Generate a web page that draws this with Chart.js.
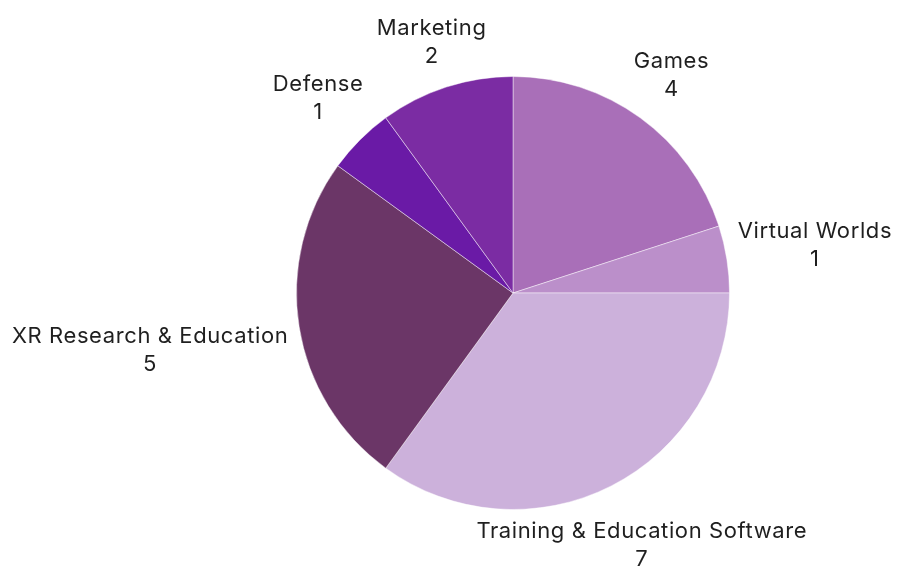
<!DOCTYPE html>
<html>
<head>
<meta charset="utf-8">
<script src="https://cdn.jsdelivr.net/npm/chart.js@4"></script>
<style>
html,body{margin:0;padding:0;background:#fff;}
#wrap{width:905px;height:583px;}
</style>
</head>
<body>
<div id="wrap"><canvas id="pie"></canvas></div>
<script>
const categories=["Games","Virtual Worlds","Training & Education Software","XR Research & Education","Defense","Marketing"];
const counts=[4,1,7,5,1,2];
const sliceColors=["#a96fb8","#bb8fca","#ccb1db","#6b3667","#6a1aa6","#7b2ca3"];

const FONT='"Inter", "Open Sans", sans-serif';

// two-line labels (name + count) outside each slice
const outsideLabels={
    id:'outsideLabels',
    afterDatasetsDraw(chart){
        const ctx=chart.ctx;
        const meta=chart.getDatasetMeta(0);
        ctx.save();
        ctx.font='22px '+FONT;
        ctx.letterSpacing='0.6px';
        ctx.fillStyle='#1f1f1f';
        ctx.textAlign='center';
        ctx.textBaseline='middle';
        meta.data.forEach((arc,i)=>{
            const p=arc.getProps(['x','y','startAngle','endAngle','outerRadius'],true);
            const mid=(p.startAngle+p.endAngle)/2;
            const dx=Math.cos(mid),dy=Math.sin(mid);
            const name=categories[i],val=String(counts[i]);
            const hw=Math.max(ctx.measureText(name).width,ctx.measureText(val).width)/2;
            // labels under the pie get a little more room
            const hh=dy>0.5?50:34;
            const t=Math.min(Math.abs(dx)>1e-6?hw/Math.abs(dx):1e9,Math.abs(dy)>1e-6?hh/Math.abs(dy):1e9);
            const d=p.outerRadius+11+t;
            const cx=p.x+dx*d,cy=p.y+dy*d;
            ctx.fillText(name,cx,cy-14);
            ctx.fillText(val,cx,cy+14);
        });
        ctx.restore();
    }
};

new Chart(document.getElementById('pie'),{
    type:'pie',
    data:{
        labels:categories,
        datasets:[{
            data:counts,
            backgroundColor:sliceColors,
            borderColor:'rgba(255,255,255,0.45)',
            borderWidth:1
        }]
    },
    options:{
        responsive:true,
        maintainAspectRatio:false,
        animation:false,
        layout:{padding:{left:121,right:0,top:76,bottom:73}},
        plugins:{legend:{display:false},tooltip:{enabled:false}}
    },
    plugins:[outsideLabels]
});
</script>
</body>
</html>
